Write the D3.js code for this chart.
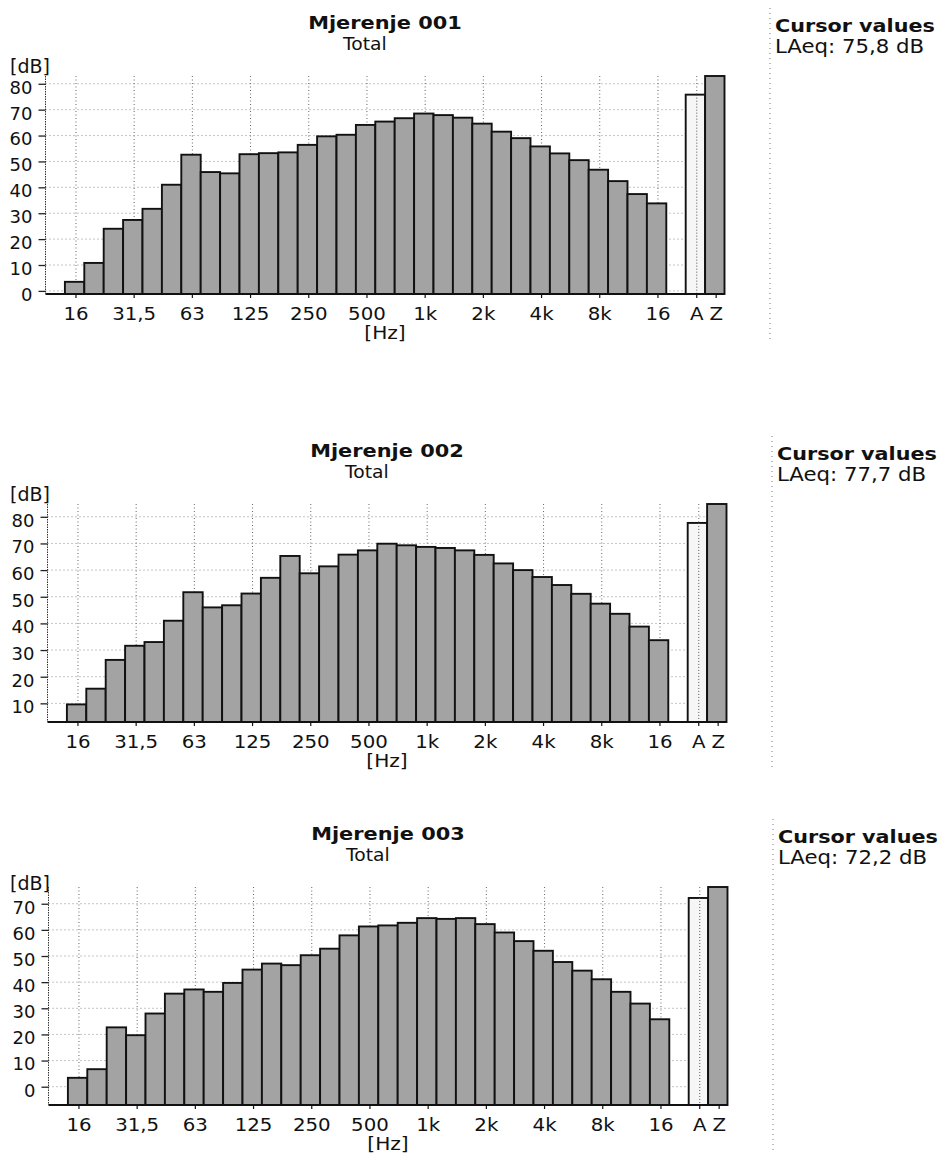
<!DOCTYPE html>
<html><head><meta charset="utf-8">
<script src="https://cdn.jsdelivr.net/npm/d3@7"></script>
<style>
body{margin:0;background:#fff}
svg{display:block}
text{font-family:"DejaVu Sans",Verdana,sans-serif;fill:#111}
</style>
</head><body>
<svg id="chart" width="941" height="1160"></svg>
<script>
// ---------- data ----------
const bands = ["16","20","25","31,5","40","50","63","80","100","125","160","200","250","315","400","500","630","800","1k","1,25k","1,6k","2k","2,5k","3,15k","4k","5k","6,3k","8k","10k","12,5k","16k"];
const tickBands  = ["16","31,5","63","125","250","500","1k","2k","4k","8k","16k","A","Z"];
const tickLabels = ["16","31,5","63","125","250","500","1k","2k","4k","8k","16","A","Z"];
const titles = ["Mjerenje 001","Mjerenje 002","Mjerenje 003"];
const subtitle = "Total";
const spectrum001 = [3.5,10.8,24,27.4,31.7,41,52.6,45.9,45.4,52.8,53.2,53.5,56.4,59.7,60.3,64.1,65.4,66.7,68.5,67.9,66.9,64.6,61.5,59,55.8,53.1,50.5,46.8,42.4,37.4,33.8];
const spectrum002 = [9.6,15.5,26.3,31.6,33,41,51.7,46,46.8,51.2,57.1,65.3,58.8,61.4,65.8,67.4,69.9,69.3,68.7,68.3,67.4,65.7,62.5,60,57.4,54.4,51.1,47.4,43.6,38.8,33.7];
const spectrum003 = [3.4,6.7,22.7,19.7,28,35.6,37.2,36.3,39.7,44.8,47.1,46.5,50.3,52.8,57.9,61.3,61.7,62.7,64.5,64.2,64.5,62.2,59,55.7,52,47.7,44.4,41.1,36.3,31.8,25.8];
const laeq = [75.8, 77.7, 72.2];   // A bar
const lzeq = [83.0, 84.8, 76.4];   // Z bar
const axisMin = [-1.2, 3, -7];
const yTicks001 = [0,10,20,30,40,50,60,70,80];
const yTicks002 = [10,20,30,40,50,60,70,80];
const yTicks003 = [0,10,20,30,40,50,60,70];
const cursorTitle = "Cursor values";
const laeqLabels = ["LAeq: 75,8 dB","LAeq: 77,7 dB","LAeq: 72,2 dB"];

// ---------- layout ----------
const spectra = [spectrum001, spectrum002, spectrum003];
const yTicksAll = [yTicks001, yTicks002, yTicks003];
const layout = [
  {top:76,  dx:0, dbDy:-3},
  {top:504, dx:2, dbDy:-3},
  {top:887, dx:3, dbDy:3}
];
const plotH = 218, slotW = 19.4, left0 = 45.5;
const slots = ["pad0", ...bands, "pad1", "A", "Z"];

const svg = d3.select("#chart");

function txt(g, x, y, s, o) {
  return g.append("text")
    .attr("transform", `translate(${x},${y}) scale(${o.sx||1},1)`)
    .attr("font-size", o.size)
    .attr("font-weight", o.bold ? "bold" : null)
    .attr("text-anchor", o.anchor || "start")
    .text(s);
}

layout.forEach((L, i) => {
  const g = svg.append("g");
  const top = L.top, bottom = top + plotH;
  const xL = left0 + L.dx, xR = xL + slots.length * slotW;
  const x = d3.scaleBand().domain(slots).range([xL, xR]).paddingInner(0).paddingOuter(0);
  const bw = x.bandwidth();
  const y = d3.scaleLinear().domain([axisMin[i], lzeq[i]]).range([bottom, top]);
  const tickX = c => x(c) + 0.57 * bw;
  const cx = (xL + xR) / 2;

  // titles
  txt(g, cx, top - 47, titles[i], {size:18.5, bold:true, anchor:"middle", sx:1.13});
  txt(g, 343 + L.dx, top - 26, subtitle, {size:18, sx:1.04});
  txt(g, 10, top + L.dbDy, "[dB]", {size:19});

  // horizontal grid
  g.append("g").selectAll("line").data(yTicksAll[i]).join("line")
    .attr("x1", xL).attr("x2", xR)
    .attr("y1", d => y(d)).attr("y2", d => y(d))
    .attr("stroke", "#8a8a8a").attr("stroke-width", 1).attr("stroke-dasharray", "1,3");
  // vertical grid
  g.append("g").selectAll("line").data(tickBands).join("line")
    .attr("x1", d => tickX(d)).attr("x2", d => tickX(d))
    .attr("y1", top).attr("y2", bottom)
    .attr("stroke", "#666").attr("stroke-width", 1).attr("stroke-dasharray", "1,2.5");

  // bars
  const rows = bands.map((b, k) => ({c:b, v:spectra[i][k], fill:"#a3a3a3"}));
  rows.push({c:"A", v:laeq[i], fill:"#f6f6f6"});
  rows.push({c:"Z", v:lzeq[i], fill:"#a3a3a3"});
  g.append("g").selectAll("rect").data(rows).join("rect")
    .attr("x", d => x(d.c)).attr("width", bw)
    .attr("y", d => y(d.v)).attr("height", d => bottom - y(d.v))
    .attr("fill", d => d.fill)
    .attr("stroke", "#111").attr("stroke-width", 1.9);
  // A-gridline visible through the A bar
  g.append("line")
    .attr("x1", tickX("A")).attr("x2", tickX("A"))
    .attr("y1", y(laeq[i])).attr("y2", bottom)
    .attr("stroke", "#555").attr("stroke-dasharray", "1,2");

  // y axis
  const ya = g.append("g").attr("transform", `translate(${xL},0)`)
    .call(d3.axisLeft(y).tickValues(yTicksAll[i]).tickSize(7).tickPadding(6).tickFormat(d3.format("d")));
  ya.select(".domain").attr("stroke", "#333").attr("stroke-dasharray", "1.5,1")
    .attr("d", `M0,${top}V${bottom}`);
  ya.selectAll(".tick line").attr("stroke", "#222").attr("stroke-width", 1.3);
  ya.selectAll(".tick text").attr("font-size", 18).attr("font-family", null).attr("fill", "#111").attr("dy", "0.52em");

  // x axis
  g.append("line").attr("x1", xL).attr("x2", xR).attr("y1", bottom).attr("y2", bottom)
    .attr("stroke", "#111").attr("stroke-width", 1.8);
  g.append("g").selectAll("line").data(tickBands).join("line")
    .attr("x1", d => tickX(d)).attr("x2", d => tickX(d))
    .attr("y1", bottom).attr("y2", bottom + 4)
    .attr("stroke", "#111").attr("stroke-width", 1.2);
  const xl = g.append("g");
  tickBands.forEach((b, k) => {
    txt(xl, tickX(b), bottom + 26, tickLabels[k], {size:18.5, anchor:"middle", sx:1.07});
  });
  txt(g, cx, bottom + 45, "[Hz]", {size:18, anchor:"middle", sx:1.12});

  // side panel
  g.append("line").attr("x1", 770 + L.dx).attr("x2", 770 + L.dx)
    .attr("y1", top - 68).attr("y2", top + 265)
    .attr("stroke", "#777").attr("stroke-dasharray", "1,4");
  txt(g, 775 + L.dx, top - 44, cursorTitle, {size:18.5, bold:true, sx:1.12});
  txt(g, 775 + L.dx, top - 23.5, laeqLabels[i], {size:19, sx:1.12});
});
</script>
</body></html>
